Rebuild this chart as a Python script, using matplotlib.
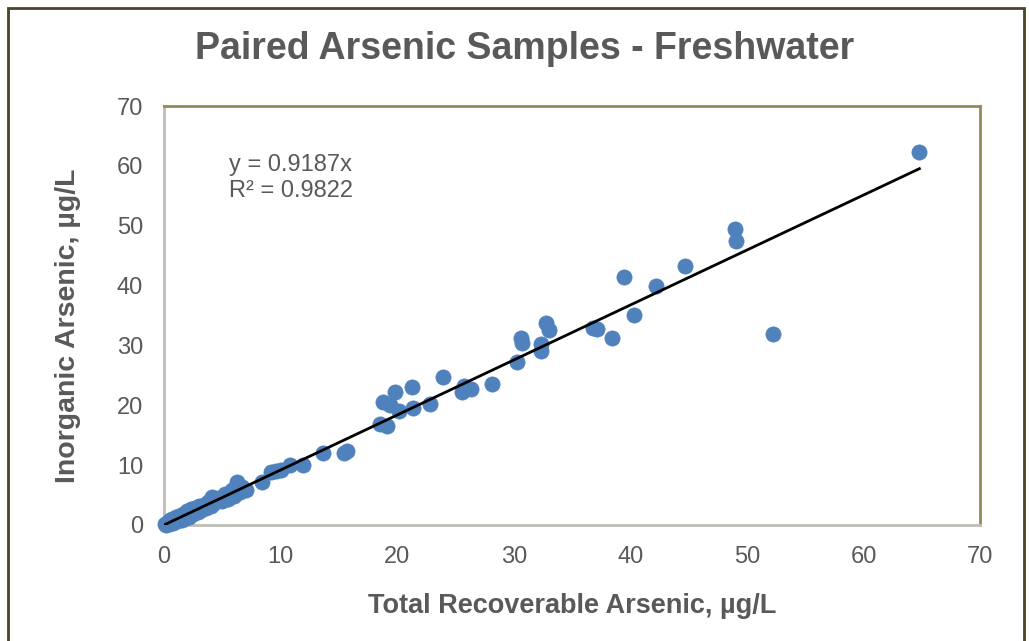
import matplotlib
matplotlib.use("Agg")
import matplotlib.pyplot as plt
from matplotlib.patches import Rectangle

plt.rcParams['font.family'] = ['Liberation Sans', 'DejaVu Sans']

# total recoverable arsenic (x) vs inorganic arsenic (y), ug/L
total_as = [0.1, 0.2, 0.3, 0.4, 0.5, 0.6, 0.7, 0.8, 1.0, 1.1, 1.3, 1.5, 1.6, 1.8,
            2.0, 2.1, 2.3, 2.5, 2.7, 2.9, 3.0, 3.2, 3.4, 3.6, 3.8, 4.0, 4.1, 4.3,
            4.6, 5.0, 5.2, 5.5, 5.8, 6.0, 6.2, 6.3, 6.5, 6.7, 7.0,
            8.4, 9.2, 9.6, 10.0, 10.8, 11.9, 13.6, 15.4, 15.7,
            18.5, 19.1, 18.8, 19.4, 19.8, 20.2, 21.3, 21.4, 22.8, 23.9,
            25.6, 25.7, 26.3, 28.1, 30.3, 30.6, 30.7, 32.3, 32.3, 32.8, 33.0,
            36.8, 37.1, 38.4, 39.5, 40.3, 42.2, 44.7, 49.0, 49.1, 52.2, 64.8]
inorganic_as = [0.2, 0.0, 0.5, 0.2, 0.8, 0.3, 1.0, 0.4, 1.3, 0.6, 1.5, 0.9, 1.8, 1.1,
                2.3, 1.4, 2.6, 1.9, 2.9, 2.1, 3.2, 2.5, 3.4, 2.8, 3.9, 3.2, 4.7, 3.6,
                4.5, 4.0, 5.2, 4.4, 5.8, 4.9, 6.2, 7.2, 5.5, 6.4, 5.9,
                7.1, 8.9, 9.1, 9.2, 10.0, 10.1, 12.0, 12.0, 12.4,
                16.9, 16.6, 20.5, 20.0, 22.2, 19.0, 23.1, 19.5, 20.2, 24.7,
                22.3, 23.2, 22.8, 23.6, 27.2, 31.2, 30.4, 30.2, 29.1, 33.7, 32.6,
                32.9, 32.7, 31.2, 41.4, 35.1, 39.9, 43.3, 49.4, 47.4, 31.9, 62.3]

slope = 0.9187
r2 = 0.9822

fig = plt.figure(figsize=(10.29, 6.41), dpi=100)
ax = fig.add_axes([0.1594, 0.181, 0.793, 0.6536])

ax.scatter(total_as, inorganic_as, s=120, color='#4F81BD', edgecolors='#4F81BD',
           linewidths=0.5, zorder=3, clip_on=False)

x_fit = [0, max(total_as)]
ax.plot(x_fit, [slope * v for v in x_fit], color='black', linewidth=2, zorder=4)

ax.set_xlim(0, 70)
ax.set_ylim(0, 70)
ax.set_xticks(range(0, 71, 10))
ax.set_yticks(range(0, 71, 10))
ax.tick_params(length=0, labelsize=17, colors='#595959')
ax.tick_params(axis='x', pad=15)
ax.tick_params(axis='y', pad=15)

ax.spines['left'].set_color('#BFBFB8')
ax.spines['bottom'].set_color('#BFBFB8')
ax.spines['top'].set_color('#948A54')
ax.spines['right'].set_color('#948A54')
for sp in ax.spines.values():
    sp.set_linewidth(2)

ax.set_xlabel('Total Recoverable Arsenic, µg/L', fontsize=19.5, fontweight='bold',
              color='#595959', labelpad=18)
ax.set_ylabel('Inorganic Arsenic, µg/L', fontsize=20.5, fontweight='bold',
              color='#595959')
ax.yaxis.set_label_coords(-0.102, 0.475)
fig.text(0.51, 1 - 49 / 641, 'Paired Arsenic Samples - Freshwater', fontsize=27,
         fontweight='bold', color='#595959', ha='center', va='center')

ax.text(5.6, 58.0, f'y = {slope}x\nR² = {r2}', fontsize=17, color='#595959',
        linespacing=1.2, va='center')

# outer chart frame
fig.patches.append(Rectangle((0.0078, -0.2), 0.9874, 1.1875, transform=fig.transFigure,
                             fill=False, edgecolor='#4A4326', linewidth=2))

fig.savefig('out.png', dpi=100)
